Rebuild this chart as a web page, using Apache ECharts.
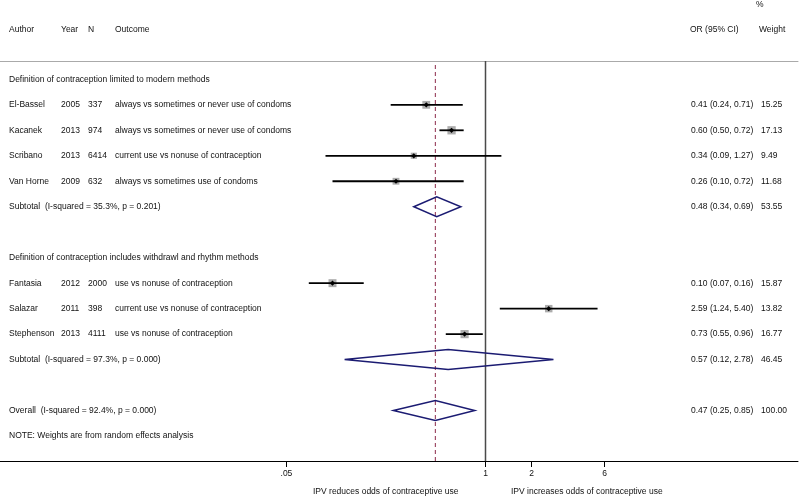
<!DOCTYPE html>
<html><head><meta charset="utf-8">
<script src="https://cdn.jsdelivr.net/npm/echarts@6/dist/echarts.min.js"></script>
<style>html,body{margin:0;padding:0;background:#fff}#c{width:800px;height:497px}</style>
</head><body><div id="c"></div>
<script>
const authors = ['El-Bassel','Kacanek','Scribano','Van Horne','Fantasia','Salazar','Stephenson'];
const years = [2005,2013,2013,2009,2012,2011,2013];
const ns = [337,974,6414,632,2000,398,4111];
const outcomes = ['always vs sometimes or never use of condoms','always vs sometimes or never use of condoms','current use vs nonuse of contraception','always vs sometimes use of condoms','use vs nonuse of contraception','current use vs nonuse of contraception','use vs nonuse of contraception'];
const studyOR = [0.41,0.60,0.34,0.26,0.10,2.59,0.73];
const studyLo = [0.24,0.50,0.09,0.10,0.07,1.24,0.55];
const studyHi = [0.71,0.72,1.27,0.72,0.16,5.40,0.96];
const studyWeight = [15.25,17.13,9.49,11.68,15.87,13.82,16.77];
const studyRows = [1,2,3,4,8,9,10];
const pooledLabels = ['Subtotal  (I-squared = 35.3%, p = 0.201)','Subtotal  (I-squared = 97.3%, p = 0.000)','Overall  (I-squared = 92.4%, p = 0.000)'];
const pooledOR = [0.48,0.57,0.47];
const pooledLo = [0.34,0.12,0.25];
const pooledHi = [0.69,2.78,0.85];
const pooledWeight = [53.55,46.45,100.00];
const pooledRows = [5,11,13];
const groupLabels = ['Definition of contraception limited to modern methods','Definition of contraception includes withdrawl and rhythm methods','NOTE: Weights are from random effects analysis'];
const groupRows = [0,7,14];
const tickValues = [0.05,1,2,6];
const tickLabels = ['.05','1','2','6'];
const nullValue = 1;
const overallValue = pooledOR[2];

const FONT = '"Liberation Sans", Arial, sans-serif';
const FS = 8.5;
const TXT = '#111';
const colX = {author:9, year:61, n:88, outcome:115, or:691, weight:761};

function fmtCI(o,l,h){return o.toFixed(2)+' ('+l.toFixed(2)+', '+h.toFixed(2)+')';}

const textRows = [];
groupRows.forEach((r,i)=>textRows.push({row:r, cells:[[colX.author, groupLabels[i]]]}));
studyRows.forEach((r,i)=>textRows.push({row:r, cells:[
  [colX.author, authors[i]],[colX.year, String(years[i])],[colX.n, String(ns[i])],[colX.outcome, outcomes[i]],
  [colX.or, fmtCI(studyOR[i],studyLo[i],studyHi[i])],[colX.weight, studyWeight[i].toFixed(2)]]}));
pooledRows.forEach((r,i)=>textRows.push({row:r, cells:[
  [colX.author, pooledLabels[i]],[colX.or, fmtCI(pooledOR[i],pooledLo[i],pooledHi[i])],[colX.weight, pooledWeight[i].toFixed(2)]]}));

const chart = echarts.init(document.getElementById('c'), null, {renderer:'canvas'});
const xMin = Math.pow(10, -485.5/153), xMax = Math.pow(10, (798-485.5)/153);

chart.setOption({
  animation:false,
  grid:{left:0, right:2, top:61, bottom:36, containLabel:false},
  xAxis:[{
    type:'log', logBase:10, min:xMin, max:xMax, position:'bottom',
    axisLine:{show:true, onZero:false, lineStyle:{color:'#000', width:1}},
    axisTick:{show:true, customValues:tickValues, length:6, lineStyle:{color:'#000', width:1}},
    axisLabel:{show:true, customValues:tickValues, margin:8, fontSize:FS, fontFamily:FONT, color:TXT,
      formatter:(v)=>{const k=tickValues.findIndex(t=>Math.abs(t-v)<1e-9);return k>=0?tickLabels[k]:'';}},
    splitLine:{show:false}
  },{
    type:'log', logBase:10, min:xMin, max:xMax, position:'top',
    axisLine:{show:true, onZero:false, lineStyle:{color:'#aaa', width:1}},
    axisTick:{show:false}, axisLabel:{show:false}, splitLine:{show:false}
  }],
  yAxis:{type:'value', inverse:true, min:-0.72, max:14.98, show:false},
  graphic:[
    {type:'text', left:756, top:0, style:{text:'%', font:FS+'px '+FONT, fill:TXT}},
    {type:'text', left:colX.author, top:25, style:{text:'Author', font:FS+'px '+FONT, fill:TXT}},
    {type:'text', left:colX.year, top:25, style:{text:'Year', font:FS+'px '+FONT, fill:TXT}},
    {type:'text', left:colX.n, top:25, style:{text:'N', font:FS+'px '+FONT, fill:TXT}},
    {type:'text', left:colX.outcome, top:25, style:{text:'Outcome', font:FS+'px '+FONT, fill:TXT}},
    {type:'text', left:colX.or-1, top:25, style:{text:'OR (95% CI)', font:FS+'px '+FONT, fill:TXT}},
    {type:'text', left:colX.weight-2, top:25, style:{text:'Weight', font:FS+'px '+FONT, fill:TXT}},
    {type:'text', left:313, top:487, style:{text:'IPV reduces odds of contraceptive use', font:FS+'px '+FONT, fill:TXT}},
    {type:'text', left:511, top:487, style:{text:'IPV increases odds of contraceptive use', font:FS+'px '+FONT, fill:TXT}}
  ],
  series:[
    {
      type:'custom', coordinateSystem:'cartesian2d', silent:true,
      data:[[nullValue,0,0],[overallValue,0,1]],
      encode:{x:0,y:1},
      renderItem:(params, api)=>{
        const cs = params.coordSys;
        const p = api.coord([api.value(0), 0]);
        if (api.value(2)===0) {
          return {type:'line', shape:{x1:p[0],y1:cs.y,x2:p[0],y2:cs.y+cs.height}, style:{stroke:'#4a4a4a', lineWidth:1.5}};
        }
        return {type:'line', shape:{x1:p[0],y1:cs.y+4,x2:p[0],y2:cs.y+cs.height}, style:{stroke:'#8c2b4b', lineWidth:1, lineDash:[4,3]}};
      }
    },
    {
      type:'custom', coordinateSystem:'cartesian2d', silent:true,
      data: studyOR.map((o,i)=>[o, studyRows[i], studyLo[i], studyHi[i], studyWeight[i]]),
      encode:{x:0,y:1},
      renderItem:(params, api)=>{
        const row = api.value(1);
        const p = api.coord([api.value(0), row]);
        const pl = api.coord([api.value(2), row]);
        const ph = api.coord([api.value(3), row]);
        const s = Math.sqrt(api.value(4))*2.0;
        const d = 2.6;
        return {type:'group', children:[
          {type:'rect', shape:{x:p[0]-s/2, y:p[1]-s/2, width:s, height:s}, style:{fill:'#acacac'}},
          {type:'line', shape:{x1:pl[0], y1:p[1], x2:ph[0], y2:p[1]}, style:{stroke:'#000', lineWidth:1.8}},
          {type:'polygon', shape:{points:[[p[0]-d,p[1]],[p[0],p[1]-d],[p[0]+d,p[1]],[p[0],p[1]+d]]}, style:{fill:'#000'}}
        ]};
      }
    },
    {
      type:'custom', coordinateSystem:'cartesian2d', silent:true,
      data: pooledOR.map((o,i)=>[o, pooledRows[i], pooledLo[i], pooledHi[i]]),
      encode:{x:0,y:1},
      renderItem:(params, api)=>{
        const row = api.value(1);
        const p = api.coord([api.value(0), row]);
        const pl = api.coord([api.value(2), row]);
        const ph = api.coord([api.value(3), row]);
        const h = 10;
        return {type:'polygon', shape:{points:[[pl[0],p[1]],[p[0],p[1]-h],[ph[0],p[1]],[p[0],p[1]+h]]},
          style:{fill:'none', stroke:'#1b1b72', lineWidth:1.5}};
      }
    },
    {
      type:'custom', coordinateSystem:'cartesian2d', silent:true, clip:false,
      data: textRows.map(t=>[1, t.row]),
      encode:{x:0,y:1},
      renderItem:(params, api)=>{
        const t = textRows[params.dataIndex];
        const y = api.coord([1, api.value(1)])[1];
        return {type:'group', children: t.cells.map(c=>({
          type:'text', x:c[0], y:y,
          style:{text:c[1], font:FS+'px '+FONT, fill:TXT, textAlign:'left', textVerticalAlign:'middle'}
        }))};
      }
    }
  ]
});
</script></body></html>
